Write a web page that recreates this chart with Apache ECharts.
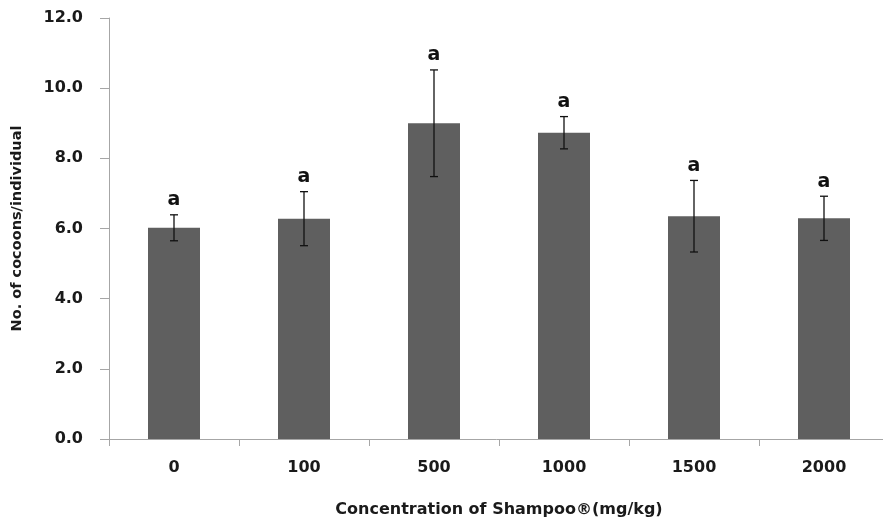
<!DOCTYPE html>
<html>
<head>
<meta charset="utf-8">
<script src="https://cdn.jsdelivr.net/npm/echarts@6/dist/echarts.min.js"></script>
<style>html,body{margin:0;padding:0;background:#fff;}#c{width:883px;height:524px;}</style>
</head>
<body>
<div id="c"></div>
<script>
const categories = ['0', '100', '500', '1000', '1500', '2000'];
const means = [6.02, 6.28, 9.0, 8.73, 6.35, 6.29];
const errors = [0.37, 0.77, 1.52, 0.46, 1.02, 0.63];
const letters = ['a', 'a', 'a', 'a', 'a', 'a'];
const yTicks = [0, 2, 4, 6, 8, 10, 12];

const chart = echarts.init(document.getElementById('c'));
const errData = categories.map((c, i) => [i, means[i] - errors[i], means[i] + errors[i], letters[i]]);
const FONT = 'DejaVu Sans';

chart.setOption({
  animation: false,
  backgroundColor: '#fff',
  grid: { left: 109, top: 18, width: 780, height: 421, outerBoundsMode: 'none', containLabel: false },
  xAxis: {
    type: 'category',
    data: categories,
    axisLine: { lineStyle: { color: '#a6a6a6', width: 1 } },
    axisTick: { show: true, length: 7, lineStyle: { color: '#a6a6a6' } },
    axisLabel: { margin: 21, color: '#1a1a1a', fontFamily: FONT, fontWeight: 'bold', fontSize: 16 },
    name: 'Concentration of Shampoo\u00ae(mg/kg)',
    nameLocation: 'middle',
    nameGap: 63,
    nameTextStyle: { color: '#1a1a1a', fontFamily: FONT, fontWeight: 'bold', fontSize: 16 }
  },
  yAxis: {
    type: 'value',
    min: 0, max: 12, interval: 2,
    axisLine: { show: true, lineStyle: { color: '#a6a6a6', width: 1 } },
    axisTick: { show: true, length: 9, lineStyle: { color: '#a6a6a6' } },
    splitLine: { show: false },
    axisLabel: { margin: 26, color: '#1a1a1a', fontFamily: FONT, fontWeight: 'bold', fontSize: 16,
      formatter: v => yTicks.includes(v) ? v.toFixed(1) : '' },
    name: 'No. of cocoons/individual',
    nameLocation: 'middle',
    nameGap: 84,
    nameTextStyle: { color: '#1a1a1a', fontFamily: FONT, fontWeight: 'bold', fontSize: 14.5 }
  },
  series: [
    {
      type: 'bar',
      data: means,
      barWidth: '40%',
      itemStyle: { color: '#5f5f5f' }
    },
    {
      type: 'custom',
      data: errData,
      z: 10,
      renderItem: function (params, api) {
        const x = api.coord([api.value(0), 0])[0];
        const lo = api.coord([api.value(0), api.value(1)])[1];
        const hi = api.coord([api.value(0), api.value(2)])[1];
        const cap = 4;
        const st = { stroke: '#111', lineWidth: 1.3 };
        return {
          type: 'group',
          children: [
            { type: 'line', shape: { x1: x, y1: lo, x2: x, y2: hi }, style: st },
            { type: 'line', shape: { x1: x - cap, y1: lo, x2: x + cap, y2: lo }, style: st },
            { type: 'line', shape: { x1: x - cap, y1: hi, x2: x + cap, y2: hi }, style: st },
            { type: 'text', x: x, y: hi - 5, style: { text: letters[params.dataIndex], textAlign: 'center', textVerticalAlign: 'bottom',
              fill: '#111', font: 'bold 19px "DejaVu Sans"' } }
          ]
        };
      }
    }
  ]
});
</script>
</body>
</html>
